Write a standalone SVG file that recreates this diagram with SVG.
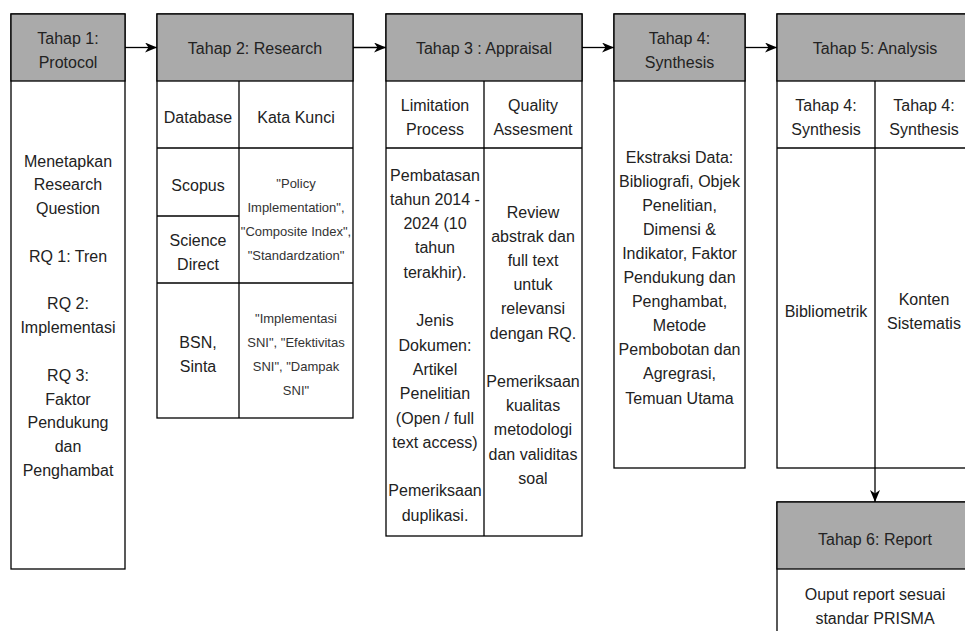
<svg xmlns="http://www.w3.org/2000/svg" width="965" height="631" viewBox="0 0 965 631">
<style>
.box{fill:#ffffff;stroke:#000;stroke-width:1.3}
.hd{fill:#aaaaaa;stroke:#000;stroke-width:1.3}
.ln{fill:none;stroke:#000;stroke-width:1.3}
text{font-family:"Liberation Sans",Arial,sans-serif;font-size:16px;fill:#222;text-anchor:middle}
.k{font-size:13px;fill:#333}
.cn{fill:none;stroke:#000;stroke-width:1.3}
</style>
<defs>
<marker id="ah" viewBox="0 0 12 10" refX="12" refY="5" markerWidth="12" markerHeight="10" orient="auto" markerUnits="userSpaceOnUse"><path d="M0,0 L12,5 L0,10 L3.5,5 Z" fill="#000"/></marker>
</defs>
<rect width="965" height="631" fill="#ffffff"/>

<g id="tahap1">
<rect class="box" x="11" y="14" width="114" height="555"/>
<rect class="hd" x="11" y="14" width="114" height="67"/>
<text x="68" y="44">Tahap 1:</text>
<text x="68" y="68">Protocol</text>
<text x="68" y="166.5">Menetapkan</text>
<text x="68" y="190.3">Research</text>
<text x="68" y="214.1">Question</text>
<text x="68" y="261.7">RQ 1: Tren</text>
<text x="68" y="309.3">RQ 2:</text>
<text x="68" y="333.1">Implementasi</text>
<text x="68" y="380.7">RQ 3:</text>
<text x="68" y="404.5">Faktor</text>
<text x="68" y="428.3">Pendukung</text>
<text x="68" y="452.1">dan</text>
<text x="68" y="475.9">Penghambat</text>
</g>

<g id="tahap2">
<rect class="box" x="157" y="14" width="196" height="404"/>
<rect class="hd" x="157" y="14" width="196" height="67"/>
<line class="ln" x1="239" y1="81" x2="239" y2="418"/>
<line class="ln" x1="157" y1="148" x2="353" y2="148"/>
<line class="ln" x1="157" y1="216" x2="239" y2="216"/>
<line class="ln" x1="157" y1="283" x2="353" y2="283"/>
<text x="255" y="53.5">Tahap 2: Research</text>
<text x="198" y="122.5">Database</text>
<text x="296" y="122.5">Kata Kunci</text>
<text x="198" y="190.5">Scopus</text>
<text x="198" y="245.5">Science</text>
<text x="198" y="269.5">Direct</text>
<text x="198" y="347.5">BSN,</text>
<text x="198" y="371.5">Sinta</text>
<text class="k" x="296" y="187.5">"Policy</text>
<text class="k" x="296" y="211.8">Implementation",</text>
<text class="k" x="296" y="236.1">"Composite Index",</text>
<text class="k" x="296" y="260.4">"Standardzation"</text>
<text class="k" x="296" y="322.5">"Implementasi</text>
<text class="k" x="296" y="346.8">SNI", "Efektivitas</text>
<text class="k" x="296" y="371.1">SNI", "Dampak</text>
<text class="k" x="296" y="395.4">SNI"</text>
</g>

<g id="tahap3">
<rect class="box" x="386" y="14" width="196" height="522"/>
<rect class="hd" x="386" y="14" width="196" height="67"/>
<line class="ln" x1="484" y1="81" x2="484" y2="536"/>
<line class="ln" x1="386" y1="148" x2="582" y2="148"/>
<text x="484" y="53.5">Tahap 3 : Appraisal</text>
<text x="435" y="110.5">Limitation</text>
<text x="435" y="134.5">Process</text>
<text x="533" y="110.5">Quality</text>
<text x="533" y="134.5">Assesment</text>
<text x="435" y="180.5">Pembatasan</text>
<text x="435" y="204.8">tahun 2014 -</text>
<text x="435" y="229.1">2024 (10</text>
<text x="435" y="253.4">tahun</text>
<text x="435" y="277.7">terakhir).</text>
<text x="435" y="326.3">Jenis</text>
<text x="435" y="350.6">Dokumen:</text>
<text x="435" y="374.9">Artikel</text>
<text x="435" y="399.2">Penelitian</text>
<text x="435" y="423.5">(Open / full</text>
<text x="435" y="447.8">text access)</text>
<text x="435" y="496.4">Pemeriksaan</text>
<text x="435" y="520.7">duplikasi.</text>
<text x="533" y="217.5">Review</text>
<text x="533" y="241.7">abstrak dan</text>
<text x="533" y="265.9">full text</text>
<text x="533" y="290.1">untuk</text>
<text x="533" y="314.3">relevansi</text>
<text x="533" y="338.5">dengan RQ.</text>
<text x="533" y="386.9">Pemeriksaan</text>
<text x="533" y="411.1">kualitas</text>
<text x="533" y="435.3">metodologi</text>
<text x="533" y="459.5">dan validitas</text>
<text x="533" y="483.7">soal</text>
</g>

<g id="tahap4">
<rect class="box" x="614" y="14" width="131" height="454"/>
<rect class="hd" x="614" y="14" width="131" height="67"/>
<text x="679.5" y="44">Tahap 4:</text>
<text x="679.5" y="68">Synthesis</text>
<text x="679.5" y="162.5">Ekstraksi Data:</text>
<text x="679.5" y="186.6">Bibliografi, Objek</text>
<text x="679.5" y="210.7">Penelitian,</text>
<text x="679.5" y="234.8">Dimensi &amp;</text>
<text x="679.5" y="258.9">Indikator, Faktor</text>
<text x="679.5" y="283">Pendukung dan</text>
<text x="679.5" y="307.1">Penghambat,</text>
<text x="679.5" y="331.2">Metode</text>
<text x="679.5" y="355.3">Pembobotan dan</text>
<text x="679.5" y="379.4">Agregrasi,</text>
<text x="679.5" y="403.5">Temuan Utama</text>
</g>

<g id="tahap5">
<rect class="box" x="777" y="14" width="196" height="454"/>
<rect class="hd" x="777" y="14" width="196" height="67"/>
<line class="ln" x1="875" y1="81" x2="875" y2="468"/>
<line class="ln" x1="777" y1="148" x2="973" y2="148"/>
<text x="875" y="53.5">Tahap 5: Analysis</text>
<text x="826" y="110.5">Tahap 4:</text>
<text x="826" y="134.5">Synthesis</text>
<text x="924" y="110.5">Tahap 4:</text>
<text x="924" y="134.5">Synthesis</text>
<text x="826" y="316.5">Bibliometrik</text>
<text x="924" y="304.5">Konten</text>
<text x="924" y="328.5">Sistematis</text>
</g>

<g id="tahap6">
<rect class="box" x="777" y="502" width="196" height="140"/>
<rect class="hd" x="777" y="502" width="196" height="67"/>
<text x="875" y="544.5">Tahap 6: Report</text>
<text x="875" y="599.5">Ouput report sesuai</text>
<text x="875" y="624">standar PRISMA</text>
</g>

<g id="connectors">
<line class="cn" x1="125" y1="47.5" x2="157" y2="47.5" marker-end="url(#ah)"/>
<line class="cn" x1="353" y1="47.5" x2="386" y2="47.5" marker-end="url(#ah)"/>
<line class="cn" x1="582" y1="47.5" x2="614" y2="47.5" marker-end="url(#ah)"/>
<line class="cn" x1="745" y1="47.5" x2="777" y2="47.5" marker-end="url(#ah)"/>
<line class="cn" x1="875" y1="468" x2="875" y2="502" marker-end="url(#ah)"/>
</g>
</svg>
